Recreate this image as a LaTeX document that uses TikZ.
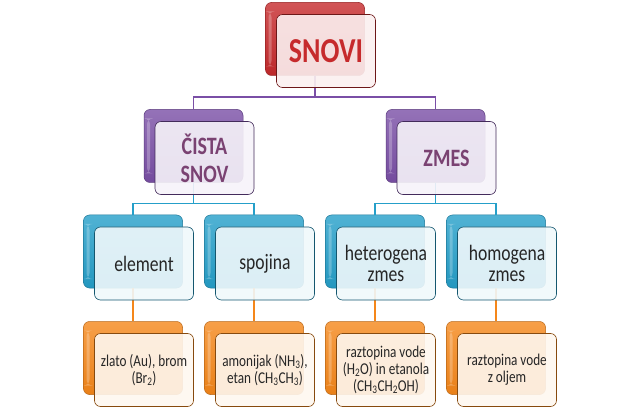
\documentclass[tikz,border=0pt]{standalone}
\usepackage{fontspec}
\newfontfamily\slidefont[FakeStretch=0.8]{Carlito}
\definecolor{snovired}{HTML}{C62A2C}
\definecolor{snovipurple}{HTML}{7A4FA6}
\definecolor{snovicyan}{HTML}{259FC9}
\definecolor{snoviorange}{HTML}{F5871A}
\definecolor{titlepurple}{HTML}{7A4272}
\tikzset{
  backbox/.style={draw=#1!75!black, line width=0.5pt, rounded corners=6pt,
    top color=#1!80!white, bottom color=#1!95!black,
    minimum width=99pt, minimum height=73pt, inner sep=0pt,
    path picture={\fill[white, opacity=0.25]
      ([xshift=3pt, yshift=-9pt]path picture bounding box.north west) rectangle
      ([xshift=6pt, yshift=9pt]path picture bounding box.south west);}},
  frontbox/.style={draw=#1!55!black, line width=0.6pt, rounded corners=6pt,
    fill=#1!7!white, fill opacity=0.9, text opacity=1,
    minimum width=99pt, minimum height=73pt, inner sep=1pt, align=center},
  link/.style={draw=#1, line width=1.5pt},
  titletext/.style={font=\slidefont\bfseries\fontsize{35}{35}\selectfont, text=snovired},
  grouptext/.style={font=\slidefont\bfseries\fontsize{25}{28}\selectfont, text=titlepurple},
  kindtext/.style={font=\slidefont\fontsize{22}{21}\selectfont, text=black!85},
  exampletext/.style={font=\slidefont\fontsize{16.5}{17}\selectfont, text=black!85}
}
\begin{document}
\begin{tikzpicture}[x=1pt, y=-1pt]
  \useasboundingbox (0,0) rectangle (640,414);
  % back boxes
  \path
    (315,39) node[backbox=snovired] (snovi) {}
    (193.5,146) node[backbox=snovipurple] (cista) {}
    (435.5,146) node[backbox=snovipurple] (zmes) {}
    (133,251.5) node[backbox=snovicyan] (element) {}
    (254,251.5) node[backbox=snovicyan] (spojina) {}
    (375,251.5) node[backbox=snovicyan] (hetero) {}
    (496,251.5) node[backbox=snovicyan] (homo) {}
    (133,358) node[backbox=snoviorange] (zlato) {}
    (254,358) node[backbox=snoviorange] (amonijak) {}
    (375,358) node[backbox=snoviorange] (raztopina) {}
    (496,358) node[backbox=snoviorange] (olje) {};
  % connectors
  \begin{scope}[link=snovipurple]
    \draw (snovi.south) -- ++(0,21.5) -| (cista.north);
    \draw (snovi.south) -- ++(0,21.5) -| (zmes.north);
  \end{scope}
  \begin{scope}[link=snovicyan]
    \draw (cista.south) -- ++(0,21) -| (element.north);
    \draw (cista.south) -- ++(0,21) -| (spojina.north);
    \draw (zmes.south) -- ++(0,21) -| (hetero.north);
    \draw (zmes.south) -- ++(0,21) -| (homo.north);
  \end{scope}
  \begin{scope}[link=snoviorange]
    \draw (element.south) -- (zlato.north);
    \draw (spojina.south) -- (amonijak.north);
    \draw (hetero.south) -- (raztopina.north);
    \draw (homo.south) -- (olje.north);
  \end{scope}
  % front boxes
  \path
    (326,51) node[frontbox=snovired, titletext] (snovi-f) {SNOVI}
    (204.5,158) node[frontbox=snovipurple, grouptext] (cista-f) {ČISTA\\SNOV}
    (446.5,158) node[frontbox=snovipurple, grouptext] (zmes-f) {ZMES}
    (144,263.5) node[frontbox=snovicyan, kindtext] (element-f) {element}
    (265,263.5) node[frontbox=snovicyan, kindtext] (spojina-f) {spojina}
    (386,263.5) node[frontbox=snovicyan, kindtext] (hetero-f) {heterogena\\zmes}
    (507,263.5) node[frontbox=snovicyan, kindtext] (homo-f) {homogena\\zmes}
    (144,370) node[frontbox=snoviorange, exampletext] (zlato-f)
      {zlato (Au), brom\\(Br\textsubscript{2})}
    (265,370) node[frontbox=snoviorange, exampletext] (amonijak-f)
      {amonijak (NH\textsubscript{3}),\\etan (CH\textsubscript{3}CH\textsubscript{3})}
    (386,370) node[frontbox=snoviorange, exampletext] (raztopina-f)
      {raztopina vode\\(H\textsubscript{2}O) in etanola\\(CH\textsubscript{3}CH\textsubscript{2}OH)}
    (507,370) node[frontbox=snoviorange, exampletext] (olje-f)
      {raztopina vode\\z oljem};
\end{tikzpicture}
\end{document}
